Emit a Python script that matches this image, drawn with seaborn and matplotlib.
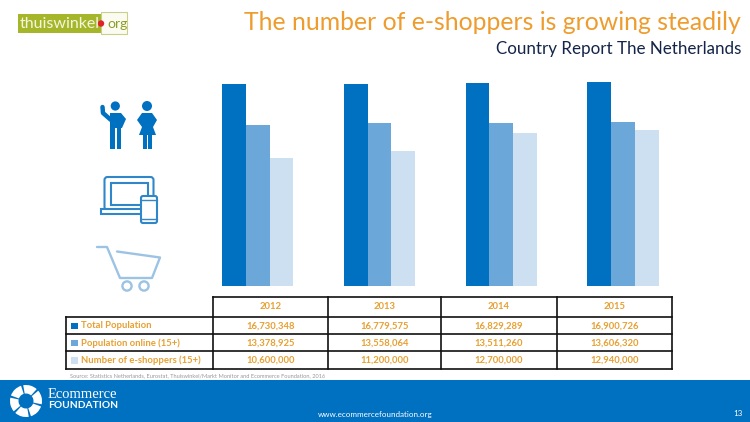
import numpy as np
import pandas as pd
import seaborn as sns
import matplotlib.pyplot as plt
from matplotlib.patches import Rectangle, Circle, FancyBboxPatch, Polygon, Wedge

years = ["2012", "2013", "2014", "2015"]
series_names = ["Total Population", "Population online (15+)", "Number of e-shoppers (15+)"]
total_population = [16730348, 16779575, 16829289, 16900726]
population_online = [13378925, 13558064, 13511260, 13606320]
e_shoppers = [10600000, 11200000, 12700000, 12940000]
bar_colors = ["#0070C0", "#6CA7DA", "#CDE0F2"]

BLUE = "#0070C0"
ORANGE = "#EE9C2E"
TABLE_TEXT = "#E7A032"
W, H = 750, 422

sns.set_style("white")
plt.rcParams["font.family"] = ["Lato", "DejaVu Sans"]

df = pd.DataFrame({
    "year": years * 3,
    "series": np.repeat(series_names, 4),
    "value": total_population + population_online + e_shoppers,
})

fig = plt.figure(figsize=(7.5, 4.22), dpi=100)

# bars
ax = fig.add_axes([197.0 / W, 1 - 285.5 / H, 486.8 / W, 225.5 / H])
sns.barplot(data=df, x="year", y="value", hue="series", palette=bar_colors, hue_order=series_names,
            order=years, width=0.585, gap=0, saturation=1, legend=False, linewidth=0, ax=ax)
ax.set_ylim(0, 16730348 * 225.5 / 201)
ax.axis("off")

# everything else in pixel coordinates
ov = fig.add_axes([0, 0, 1, 1], zorder=-1)
ov.set_xlim(0, W)
ov.set_ylim(H, 0)
ov.axis("off")

ov.text(741, 23, "The number of e-shoppers is growing steadily", ha="right", va="center",
        fontsize=17.8, color=ORANGE)
ov.text(741, 49, "Country Report The Netherlands", ha="right", va="center", fontsize=12.25, color="#14244A")

# thuiswinkel logo
ov.add_patch(Rectangle((18, 14), 84, 19, color="#A6B62B", lw=0))
ov.add_patch(Rectangle((101, 11.5), 26, 22, fc="#FBFBF2", ec="#C9D08A", lw=0.8))
ov.text(20, 23.5, "thuiswinkel", color="#F4F6DC", fontsize=11.5, va="center")
ov.add_patch(Circle((101, 23.5), 3.2, color="#E0202A", lw=0))
ov.text(107, 23.5, "org", color="#8E9C2A", fontsize=10, va="center")

# people icon
for x, y, r in [(115.3, 106, 4.6), (147, 106, 5)]:
    ov.add_patch(Circle((x, y), r, color=BLUE, lw=0))
ov.add_patch(Polygon([[110, 113], [121, 113], [126, 119], [122, 128], [110, 128]], color=BLUE, lw=0))
ov.add_patch(Rectangle((110, 127), 4.6, 22, color=BLUE, lw=0))
ov.add_patch(Rectangle((116.5, 127), 4.6, 22, color=BLUE, lw=0))
ov.plot([102.5, 103, 111], [107, 113, 120], color=BLUE, lw=3.2, solid_capstyle="round")
ov.add_patch(Polygon([[142, 113], [152, 113], [157, 120], [153, 127], [156, 135], [139, 135], [142, 127], [137, 120]],
                     color=BLUE, lw=0))
ov.add_patch(Rectangle((143, 134), 3.6, 15, color=BLUE, lw=0))
ov.add_patch(Rectangle((148.2, 134), 3.6, 15, color=BLUE, lw=0))

# laptop and phone icon
ic = "#2F86C8"
ov.add_patch(FancyBboxPatch((104.5, 177), 49, 33, boxstyle="round,pad=0,rounding_size=3", fc="none", ec=ic, lw=1.5))
ov.add_patch(Rectangle((110.5, 183), 37, 22, fc="none", ec=ic, lw=1.5))
ov.add_patch(Rectangle((101, 209), 42, 4.5, fc="white", ec=ic, lw=1.5))
ov.add_patch(FancyBboxPatch((141, 196), 16, 27, boxstyle="round,pad=0,rounding_size=2", fc="white", ec=ic, lw=1.5, zorder=3))
ov.plot([141, 157], [200, 200], color=ic, lw=1, zorder=4)
ov.plot([141, 157], [218.5, 218.5], color=ic, lw=1, zorder=4)

# cart icon
ic = "#9CC3E4"
ov.plot([97, 107, 120, 152, 160, 117], [247, 247, 278, 278, 257.5, 251.5], color=ic, lw=1.7)
ov.add_patch(Circle((127, 286), 4.6, fc="none", ec=ic, lw=1.7))
ov.add_patch(Circle((144, 286), 4.6, fc="none", ec=ic, lw=1.7))

# table under the bars
col_x = [212.7, 327.7, 441, 557, 672]
row_y = [296.7, 317, 334.3, 351.3, 368.7]
line = dict(color="#111111", lw=1.2, solid_capstyle="projecting")
ov.plot([col_x[0], col_x[-1]], [row_y[0], row_y[0]], **line)
for y in row_y[1:]:
    ov.plot([66, col_x[-1]], [y, y], **line)
ov.plot([66, 66], [row_y[1], row_y[-1]], **line)
for x in col_x:
    ov.plot([x, x], [row_y[0], row_y[-1]], **line)

rows = [total_population, population_online, e_shoppers]
for j, year in enumerate(years):
    cx = (col_x[j] + col_x[j + 1]) / 2
    ov.text(cx, (row_y[0] + row_y[1]) / 2, year, ha="center", va="center", fontsize=6.8,
            fontweight="bold", color=TABLE_TEXT)
    for i, vals in enumerate(rows):
        ov.text(cx, (row_y[i + 1] + row_y[i + 2]) / 2, f"{vals[j]:,}", ha="center", va="center",
                fontsize=6.8, fontweight="bold", color=TABLE_TEXT)
for i, name in enumerate(series_names):
    cy = (row_y[i + 1] + row_y[i + 2]) / 2
    ov.add_patch(Rectangle((71, cy - 3), 6.5, 6.5, color=bar_colors[i], lw=0))
    ov.text(81, cy, name, va="center", fontsize=6.8, fontweight="bold", color=TABLE_TEXT)

ov.text(70, 375.5, "Source: Statistics Netherlands, Eurostat, Thuiswinkel/Markt Monitor and Ecommerce Foundation, 2016",
        va="center", fontsize=4.1, color="#999999")

# footer band
ov.add_patch(Rectangle((0, 380), W, 42, color=BLUE, lw=0))
for start in range(0, 360, 60):
    ov.add_patch(Wedge((26, 401), 16, start + 20, start + 72, width=8.5, color="white", lw=0))
ov.text(48, 395, "Ecommerce", color="white", fontsize=10.5, family="Liberation Serif", va="center")
ov.text(48, 406, "FOUNDATION", color="white", fontsize=7.4, fontweight="bold", va="center")
ov.text(375, 414, "www.ecommercefoundation.org", color="white", fontsize=5.8, ha="center", va="center")
ov.text(738, 414, "13", color="white", fontsize=5.8, ha="center", va="center")

fig.savefig("out.png", dpi=100)
